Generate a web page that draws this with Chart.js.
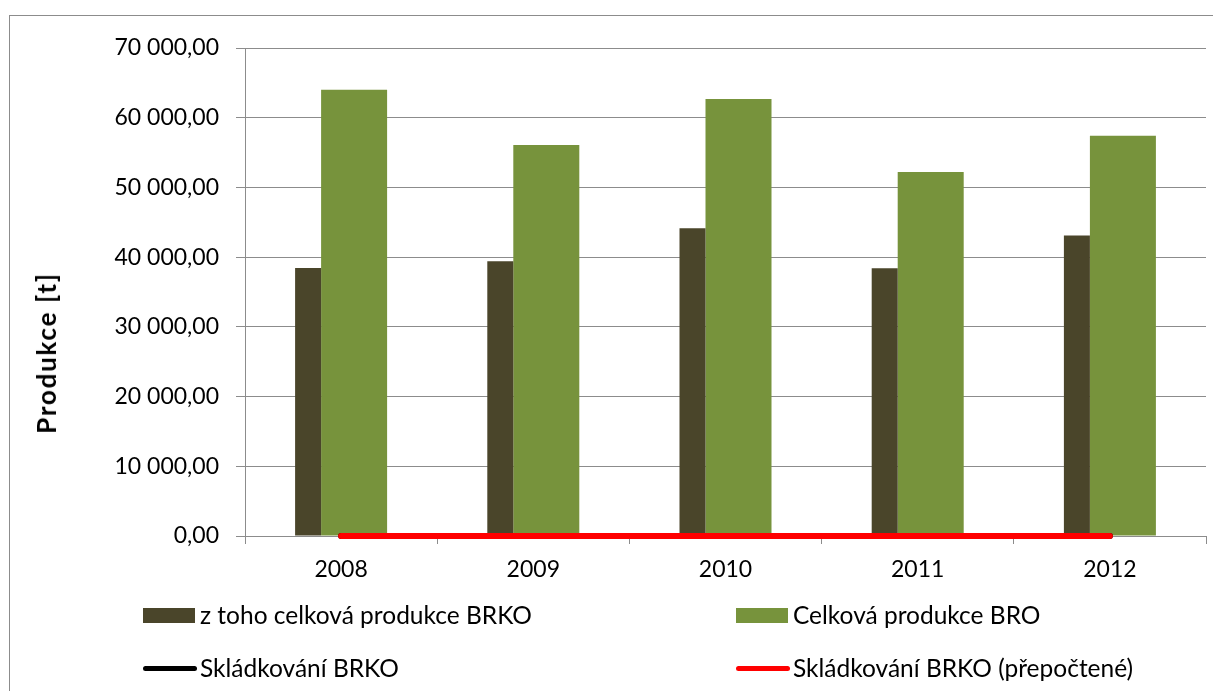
<!DOCTYPE html>
<html>
<head>
<meta charset="utf-8">
<script src="https://cdn.jsdelivr.net/npm/chart.js@4/dist/chart.umd.min.js"></script>
<style>
  html, body { margin: 0; padding: 0; background: #fff; overflow: hidden; }
  body { width: 1213px; height: 691px; position: relative; font-family: Lato, sans-serif; }
  #frame { position: absolute; left: 9px; top: 15px; width: 1220px; height: 700px; border: 1px solid #8c8c8c; }
  #wrap { position: absolute; left: 0; top: 0; width: 1213px; height: 691px; }
  #ytitle { position: absolute; left: 46px; top: 353px; font-size: 26px; font-weight: bold; white-space: nowrap;
            transform: translate(-50%, -50%) rotate(-90deg); line-height: 30px; color: #000; }
  .leg { position: absolute; font-size: 24.5px; color: #000; line-height: 28px; white-space: nowrap; }
  .leg .sw { position: absolute; left: 0; }
  .leg .tx { position: absolute; top: 0; }
</style>
</head>
<body>
<div id="frame"></div>
<div id="wrap"><canvas id="chart" width="1213" height="691"></canvas></div>
<div id="ytitle">Produkce [t]</div>
<div id="legend"></div>
<script>
const years = ["2008", "2009", "2010", "2011", "2012"];
const brko = [38450, 39400, 44150, 38400, 43100];       // z toho celková produkce BRKO
const bro = [64000, 56100, 62700, 52200, 57400];        // Celková produkce BRO
const skladBrko = [0, 0, 0, 0, 0];                      // Skládkování BRKO
const skladPrepoct = [0, 0, 0, 0, 0];                   // Skládkování BRKO (přepočtené)
const yTicks = [0, 10000, 20000, 30000, 40000, 50000, 60000, 70000];

const gray = "#8c8c8c";

// 70 000,00 style
function fmt(v) {
  const s = Math.round(v).toString().replace(/\B(?=(\d{3})+(?!\d))/g, " ");
  return s + ",00";
}

const datasets = [
  {
    type: "bar",
    label: "z toho celková produkce BRKO",
    data: brko,
    backgroundColor: "#4a452a",
    categoryPercentage: 0.6868,
    barPercentage: 0.394,
    order: 3,
  },
  {
    type: "bar",
    label: "Celková produkce BRO",
    data: bro,
    backgroundColor: "#77933c",
    categoryPercentage: 0.2706,
    barPercentage: 2.538,
    order: 3,
  },
  {
    type: "line",
    label: "Skládkování BRKO",
    data: skladBrko,
    borderColor: "#000000",
    backgroundColor: "#000000",
    borderWidth: 6,
    pointRadius: 0,
    borderCapStyle: "round",
    clip: false,
    order: 2,
  },
  {
    type: "line",
    label: "Skládkování BRKO (přepočtené)",
    data: skladPrepoct,
    borderColor: "#ff0000",
    backgroundColor: "#ff0000",
    borderWidth: 6,
    pointRadius: 0,
    borderCapStyle: "round",
    clip: false,
    order: 1,
  },
];

Chart.defaults.font.family = "Lato, sans-serif";
Chart.defaults.color = "#000";

const chart = new Chart(document.getElementById("chart").getContext("2d"), {
  type: "bar",
  data: { labels: years, datasets: datasets },
  options: {
    responsive: false,
    animation: false,
    layout: { padding: { left: 0, top: 48, right: 7, bottom: 0 } },
    plugins: {
      legend: { display: false },
      tooltip: { enabled: false },
    },
    scales: {
      x: {
        offset: true,
        grid: { drawOnChartArea: false, color: gray, tickLength: 8, offset: true },
        border: { color: gray, width: 1 },
        ticks: { font: { size: 23 }, padding: 12, maxRotation: 0 },
        afterFit: (scale) => { scale.height = 155; },
      },
      y: {
        min: 0,
        max: 70000,
        afterBuildTicks: (scale) => { scale.ticks = yTicks.map((v) => ({ value: v })); },
        grid: { color: gray, lineWidth: 1, tickLength: 9 },
        border: { color: gray, width: 1 },
        ticks: { font: { size: 23 }, padding: 17, callback: (v) => fmt(v) },
        afterFit: (scale) => { scale.width = 245; },
      },
    },
  },
});

// stretch the axis title to the length it has in the original (160px)
const yTitle = document.getElementById("ytitle");
const natural = yTitle.getBoundingClientRect().height;
const gaps = yTitle.textContent.length - 1;
yTitle.style.letterSpacing = Math.max(0, (160 - natural) / gaps).toFixed(2) + "px";

// legend laid out in two columns like the original
const legendPos = [
  { left: 143, top: 601 },
  { left: 736, top: 601 },
  { left: 143, top: 654 },
  { left: 736, top: 654 },
];
const legendEl = document.getElementById("legend");
datasets.forEach((ds, i) => {
  const item = document.createElement("div");
  item.className = "leg";
  item.style.left = legendPos[i].left + "px";
  item.style.top = legendPos[i].top + "px";
  const sw = document.createElement("div");
  sw.className = "sw";
  if (ds.type === "bar") {
    sw.style.cssText = "top:7px;width:52px;height:15px;background:" + ds.backgroundColor;
  } else {
    sw.style.cssText = "top:12px;width:54px;height:5px;border-radius:3px;background:" + ds.borderColor;
  }
  const tx = document.createElement("span");
  tx.className = "tx";
  tx.style.left = "57px";
  tx.textContent = ds.label;
  item.appendChild(sw);
  item.appendChild(tx);
  legendEl.appendChild(item);
});
</script>
</body>
</html>
